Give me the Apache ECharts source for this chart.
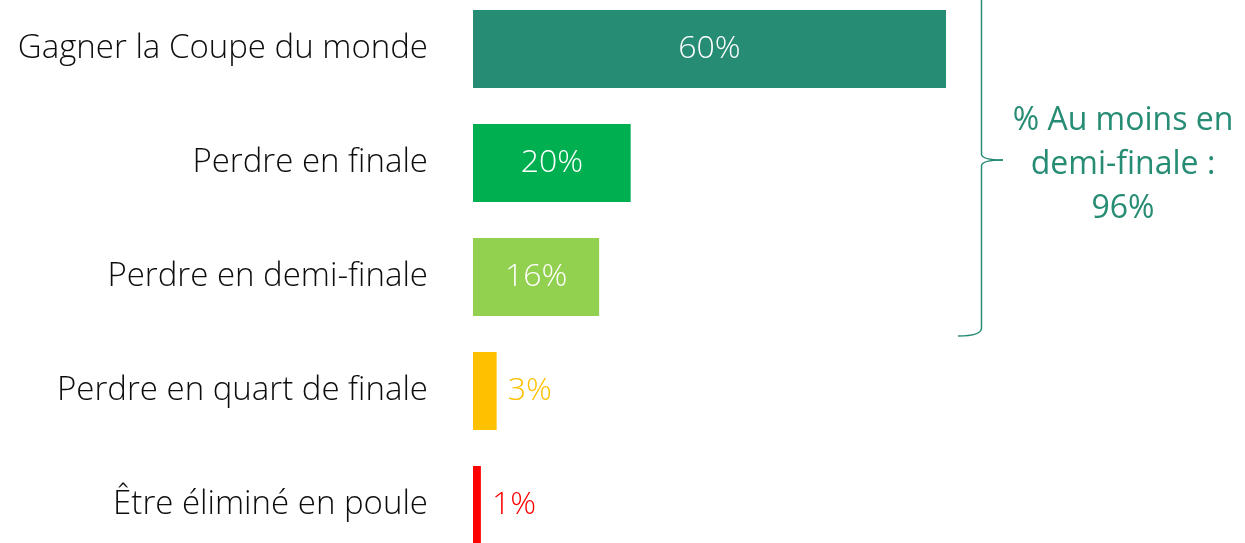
<!DOCTYPE html>
<html><head><meta charset="utf-8">
<script src="https://cdn.jsdelivr.net/npm/echarts@6/dist/echarts.min.js"></script>
<style>html,body{margin:0;padding:0;background:#fff;overflow:hidden;width:1245px;height:543px}#c{width:1245px;height:570px;margin-top:-8px}</style>
</head><body><div id="c"></div>
<script>
const categories = ['Gagner la Coupe du monde','Perdre en finale','Perdre en demi-finale','Perdre en quart de finale','Être éliminé en poule'];
const values = [60, 20, 16, 3, 1];
const colors = ['#268C74', '#00B050', '#92D050', '#FFC000', '#FF0000'];
const insideLabel = [true, true, true, false, false];
const annotationLines = ['% Au moins en', 'demi-finale :', '96%'];
const FONT = 'Open Sans';
const OFFSET = 8; // container shifted up by this many px

const chart = echarts.init(document.getElementById('c'));
const data = values.map((v, i) => ({
  value: v,
  itemStyle: { color: colors[i] },
  label: insideLabel[i]
    ? { position: 'inside', color: '#fff' }
    : { position: 'right', color: colors[i], distance: 11 }
}));
chart.setOption({
  animation: false,
  grid: { left: 473, width: 473, top: 0, bottom: 0, containLabel: false },
  xAxis: { type: 'value', min: 0, max: 60, show: false },
  yAxis: {
    type: 'category', data: categories, inverse: true,
    axisLine: { show: false }, axisTick: { show: false },
    axisLabel: { margin: 45, fontSize: 33, color: '#0d0d0d', fontFamily: FONT, fontWeight: 300 }
  },
  series: [{
    type: 'bar', data: data, barCategoryGap: '31.6%',
    label: { show: true, formatter: '{c}%', fontSize: 32, fontFamily: FONT, fontWeight: 300 }
  }]
});

// brace annotation spanning the first three categories
const yTop = chart.convertToPixel({ yAxisIndex: 0 }, 0) - 57 - 20;
const yBot = chart.convertToPixel({ yAxisIndex: 0 }, 2) + 57 + 2;
const yMid = 160 + OFFSET;
const x = 981.5, xl = 958, xr = 1003;
const stroke = { stroke: '#268C74', lineWidth: 1.5, fill: null };
chart.setOption({
  graphic: [
    { type: 'bezierCurve', shape: { x1: xl, y1: yBot, cpx1: x, cpy1: yBot, x2: x, y2: yBot - 8 }, style: stroke },
    { type: 'line', shape: { x1: x, y1: yBot - 8, x2: x, y2: yMid + 6 }, style: stroke },
    { type: 'bezierCurve', shape: { x1: x, y1: yMid + 6, cpx1: x, cpy1: yMid, x2: xr, y2: yMid }, style: stroke },
    { type: 'bezierCurve', shape: { x1: x, y1: yMid - 6, cpx1: x, cpy1: yMid, x2: xr, y2: yMid }, style: stroke },
    { type: 'line', shape: { x1: x, y1: yMid - 6, x2: x, y2: yTop + 8 }, style: stroke },
    { type: 'bezierCurve', shape: { x1: x, y1: yTop + 8, cpx1: x, cpy1: yTop, x2: xl, y2: yTop }, style: stroke },
    { type: 'text', x: 1123, y: 165 + OFFSET, style: {
      text: annotationLines.join('\n'), fill: '#268C74', font: `400 32px "${FONT}"`,
      align: 'center', verticalAlign: 'middle', lineHeight: 44 } }
  ]
});
</script></body></html>
